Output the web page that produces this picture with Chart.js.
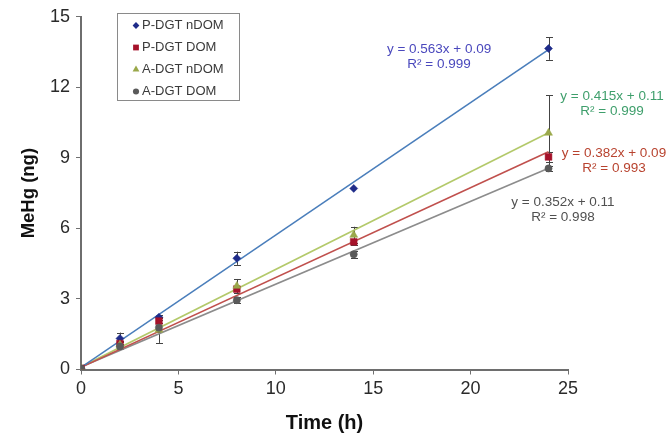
<!DOCTYPE html>
<html>
<head>
<meta charset="utf-8">
<script src="https://cdn.jsdelivr.net/npm/chart.js@4.4.1/dist/chart.umd.min.js"></script>
<style>
html,body{margin:0;padding:0;background:#fff;}
#wrap{width:668px;height:435px;position:relative;}
</style>
</head>
<body>
<div id="wrap"><canvas id="c" width="668" height="435"></canvas></div>
<script>
// ---- data ----
const times = [0, 2, 4, 8, 14, 24];
const seriesNames = ['P-DGT nDOM', 'P-DGT DOM', 'A-DGT nDOM', 'A-DGT DOM'];
const pDgtNdom    = [0.05, 1.32, 2.22, 4.73, 7.70, 13.65];
const pDgtNdomErr = [0, 0.25, 0.10, 0.28, 0, 0.48];
const pDgtDom     = [0.05, 1.10, 2.06, 3.42, 5.43, 9.04];
const pDgtDomErr  = [0, 0.10, 0.15, 0.15, 0.12, 0.20];
const aDgtNdom    = [0.05, 1.05, 1.68, 3.55, 5.72, 10.06];
const aDgtNdomErr = [0, 0.12, 0.55, 0.30, 0.35, 1.60];
const aDgtDom     = [0.05, 0.98, 1.78, 2.95, 4.90, 8.55];
const aDgtDomErr  = [0, 0.10, 0.20, 0.12, 0.15, 0.12];
const slopes     = [0.563, 0.382, 0.415, 0.352];
const intercepts = [0.09, 0.09, 0.11, 0.11];
const rSquared   = [0.999, 0.993, 0.999, 0.998];
const xTickMax = 25, xTickStep = 5;
const yTickMax = 15, yTickStep = 3;

// ---- styles (kept separate from data) ----
const markerColors = ['#1f2c8a', '#a5122a', '#9aa84a', '#5a5a5a'];
const lineColors   = ['#4a7ebb', '#c0504d', '#b3c96a', '#8c8c8c'];
const labelColors  = ['#4a48bd', '#b8432f', '#3f9f6c', '#505050'];
const pointStyles  = ['rectRot', 'rect', 'triangle', 'circle'];
const pointRadii   = [4, 4.8, 4.6, 3.6];
// label anchor positions in data units (centre of first line)
const labelPosX = [18.38, 27.36, 27.26, 24.74];
const labelPosY = [13.62, 9.20, 11.62, 7.12];

const values = [pDgtNdom, pDgtDom, aDgtNdom, aDgtDom];
const errors = [pDgtNdomErr, pDgtDomErr, aDgtNdomErr, aDgtDomErr];
const FONT = "'Liberation Sans', Arial, sans-serif";

const datasets = [];
// trendlines
seriesNames.forEach((n, i) => {
  const xEnd = times[times.length - 1];
  datasets.push({
    label: n + ' fit', type: 'scatter', showLine: true,
    data: [{x: 0, y: intercepts[i]}, {x: xEnd, y: slopes[i] * xEnd + intercepts[i]}],
    borderColor: lineColors[i], borderWidth: 1.6, pointRadius: 0, fill: false,
    order: 10 + i
  });
});
// markers
seriesNames.forEach((n, i) => {
  datasets.push({
    label: n, type: 'scatter',
    data: times.map((t, k) => ({x: t, y: values[i][k]})),
    backgroundColor: markerColors[i], borderColor: markerColors[i], borderWidth: 0.5,
    pointStyle: pointStyles[i], pointRadius: pointRadii[i], pointHoverRadius: pointRadii[i],
    order: 4 - i
  });
});

function drawMarker(ctx, style, x, y, r, color) {
  ctx.save();
  ctx.fillStyle = color;
  ctx.beginPath();
  if (style === 'rectRot') {
    ctx.moveTo(x, y - r); ctx.lineTo(x + r, y); ctx.lineTo(x, y + r); ctx.lineTo(x - r, y); ctx.closePath();
  } else if (style === 'rect') {
    const s = r * Math.SQRT1_2;
    ctx.rect(x - s, y - s, 2 * s, 2 * s);
  } else if (style === 'triangle') {
    ctx.moveTo(x, y - r); ctx.lineTo(x + r * 0.87, y + r * 0.5); ctx.lineTo(x - r * 0.87, y + r * 0.5); ctx.closePath();
  } else {
    ctx.arc(x, y, r, 0, Math.PI * 2);
  }
  ctx.fill();
  ctx.restore();
}

const errorBars = {
  id: 'errorBars',
  beforeDatasetsDraw(chart) {
    const {ctx, scales: {x, y}} = chart;
    ctx.save();
    ctx.strokeStyle = '#444';
    ctx.lineWidth = 1;
    values.forEach((vals, i) => {
      vals.forEach((v, k) => {
        const e = errors[i][k];
        if (!e) return;
        const px = Math.round(x.getPixelForValue(times[k])) + 0.5;
        const y1 = y.getPixelForValue(v + e), y2 = y.getPixelForValue(v - e);
        ctx.beginPath();
        ctx.moveTo(px, y1); ctx.lineTo(px, y2);
        ctx.moveTo(px - 3.5, Math.round(y1) + 0.5); ctx.lineTo(px + 3.5, Math.round(y1) + 0.5);
        ctx.moveTo(px - 3.5, Math.round(y2) + 0.5); ctx.lineTo(px + 3.5, Math.round(y2) + 0.5);
        ctx.stroke();
      });
    });
    ctx.restore();
  }
};

const overlays = {
  id: 'overlays',
  afterDraw(chart) {
    const {ctx, scales: {x, y}} = chart;
    ctx.save();
    // equation labels
    ctx.font = '13.5px ' + FONT;
    ctx.textAlign = 'center';
    ctx.textBaseline = 'middle';
    seriesNames.forEach((n, i) => {
      const cx = x.getPixelForValue(labelPosX[i]);
      const cy = y.getPixelForValue(labelPosY[i]);
      ctx.fillStyle = labelColors[i];
      ctx.fillText('y = ' + slopes[i].toFixed(3) + 'x + ' + intercepts[i].toFixed(2), cx, cy);
      ctx.fillText('R\u00B2 = ' + rSquared[i].toFixed(3), cx, cy + 15.5);
    });
    // legend box
    ctx.strokeStyle = '#8a8a8a';
    ctx.lineWidth = 1;
    ctx.fillStyle = '#fff';
    ctx.fillRect(117.5, 13.5, 122, 87);
    ctx.strokeRect(117.5, 13.5, 122, 87);
    ctx.font = '13px ' + FONT;
    ctx.textAlign = 'left';
    seriesNames.forEach((n, i) => {
      const ry = 25.5 + i * 22;
      drawMarker(ctx, pointStyles[i], 136, ry, pointRadii[i] * 0.85, markerColors[i]);
      ctx.fillStyle = '#3a3a3a';
      ctx.fillText(n, 142, ry);
    });
    ctx.restore();
  }
};

new Chart(document.getElementById('c'), {
  type: 'scatter',
  data: {datasets},
  plugins: [errorBars, overlays],
  options: {
    responsive: false,
    animation: false,
    devicePixelRatio: 1,
    layout: {padding: {left: 0, right: 100, top: 16.5, bottom: 0}},
    plugins: {legend: {display: false}, tooltip: {enabled: false}},
    scales: {
      x: {
        type: 'linear', min: 0, max: xTickMax,
        afterFit(s) { s.height = 65.5; },
        ticks: {stepSize: xTickStep, color: '#2a2a2a', padding: 4, font: {family: FONT, size: 18}},
        grid: {drawOnChartArea: false, drawTicks: true, tickLength: 5, color: '#707070'},
        border: {display: true, color: '#6e6e6e', width: 2},
        title: {display: true, text: 'Time (h)', color: '#111', padding: {top: 0, bottom: 0},
                font: {family: FONT, size: 20, weight: 'bold'}}
      },
      y: {
        type: 'linear', min: 0, max: yTickMax,
        afterFit(s) { s.width = 81; },
        ticks: {stepSize: yTickStep, color: '#2a2a2a', padding: 6, font: {family: FONT, size: 18}},
        grid: {drawOnChartArea: false, drawTicks: true, tickLength: 5, color: '#707070'},
        border: {display: true, color: '#6e6e6e', width: 2},
        title: {display: true, text: 'MeHg (ng)', color: '#111', padding: {top: 18, bottom: 0},
                font: {family: FONT, size: 18.5, weight: 'bold'}}
      }
    }
  }
});
</script>
</body>
</html>
